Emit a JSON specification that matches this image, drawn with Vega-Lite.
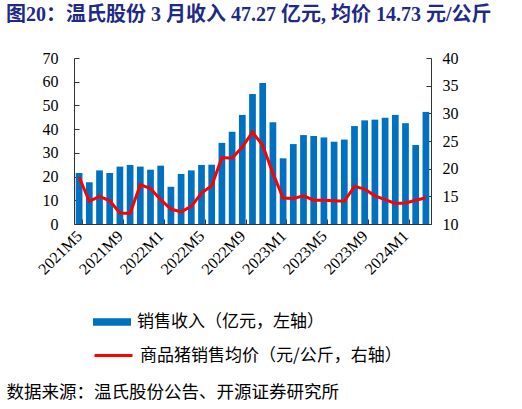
{
  "$schema": "https://vega.github.io/schema/vega-lite/v6.json",
  "autosize": "none",
  "width": 357,
  "height": 166,
  "padding": {"left": 74, "top": 58, "right": 91, "bottom": 185},
  "background": "white",
  "title": {
    "text": "图20：温氏股份 3 月收入 47.27 亿元, 均价 14.73 元/公斤",
    "anchor": "start",
    "frame": "group",
    "dx": -68,
    "offset": 9,
    "baseline": "alphabetic",
    "font": "Liberation Serif, Noto Sans CJK SC",
    "fontSize": 20,
    "fontWeight": "bold",
    "color": "#1F2A86"
  },
  "data": {
    "values": [
      {"month": "2021M5", "revenue": 21.5, "price": 18.5},
      {"month": "2021M6", "revenue": 17.6, "price": 14.1},
      {"month": "2021M7", "revenue": 22.6, "price": 15.0},
      {"month": "2021M8", "revenue": 21.5, "price": 14.2},
      {"month": "2021M9", "revenue": 24.2, "price": 12.0},
      {"month": "2021M10", "revenue": 24.9, "price": 11.9},
      {"month": "2021M11", "revenue": 24.2, "price": 17.1},
      {"month": "2021M12", "revenue": 22.9, "price": 16.4},
      {"month": "2022M1", "revenue": 24.6, "price": 14.4},
      {"month": "2022M2", "revenue": 15.7, "price": 12.7},
      {"month": "2022M3", "revenue": 21.1, "price": 12.2},
      {"month": "2022M4", "revenue": 22.6, "price": 13.2},
      {"month": "2022M5", "revenue": 24.9, "price": 15.6},
      {"month": "2022M6", "revenue": 25.0, "price": 16.9},
      {"month": "2022M7", "revenue": 34.2, "price": 22.0},
      {"month": "2022M8", "revenue": 38.9, "price": 21.9},
      {"month": "2022M9", "revenue": 46.0, "price": 23.9},
      {"month": "2022M10", "revenue": 54.8, "price": 26.6},
      {"month": "2022M11", "revenue": 59.5, "price": 24.2},
      {"month": "2022M12", "revenue": 42.9, "price": 19.2},
      {"month": "2023M1", "revenue": 27.7, "price": 14.7},
      {"month": "2023M2", "revenue": 33.7, "price": 14.6},
      {"month": "2023M3", "revenue": 37.5, "price": 15.1},
      {"month": "2023M4", "revenue": 37.1, "price": 14.3},
      {"month": "2023M5", "revenue": 36.5, "price": 14.3},
      {"month": "2023M6", "revenue": 34.7, "price": 14.2},
      {"month": "2023M7", "revenue": 35.6, "price": 14.1},
      {"month": "2023M8", "revenue": 41.3, "price": 16.8},
      {"month": "2023M9", "revenue": 43.7, "price": 16.3},
      {"month": "2023M10", "revenue": 44.0, "price": 15.1},
      {"month": "2023M11", "revenue": 44.8, "price": 14.4},
      {"month": "2023M12", "revenue": 46.0, "price": 13.7},
      {"month": "2024M1", "revenue": 42.5, "price": 13.8},
      {"month": "2024M2", "revenue": 33.3, "price": 14.3},
      {"month": "2024M3", "revenue": 47.27, "price": 14.73}
    ]
  },
  "encoding": {
    "x": {
      "field": "month",
      "type": "ordinal",
      "sort": null,
      "scale": {"paddingInner": 0.34, "paddingOuter": 0.17},
      "axis": {
        "values": ["2021M5", "2021M9", "2022M1", "2022M5", "2022M9", "2023M1", "2023M5", "2023M9", "2024M1"],
        "labelAngle": -45,
        "labelAlign": "right",
        "labelBaseline": "middle",
        "labelFont": "Liberation Serif",
        "labelFontSize": 16,
        "labelColor": "#000000",
        "labelPadding": 14,
        "tickBand": "extent",
        "tickSize": -5,
        "tickColor": "#333333",
        "domainColor": "#333333",
        "title": "数据来源：温氏股份公告、开源证券研究所",
        "titleX": -68,
        "titleY": 168,
        "titleAlign": "left",
        "titleAnchor": null,
        "titleBaseline": "middle",
        "titleAngle": 0,
        "titleFont": "Noto Sans CJK SC",
        "titleFontSize": 17.5,
        "titleFontWeight": "normal",
        "titleColor": "#000000"
      }
    }
  },
  "layer": [
    {
      "mark": {"type": "bar", "color": "#0070C0"},
      "encoding": {
        "y": {
          "field": "revenue",
          "type": "quantitative",
          "scale": {"domain": [0, 70], "nice": false},
          "axis": {
            "title": null,
            "values": [0, 10, 20, 30, 40, 50, 60, 70],
            "grid": false,
            "tickSize": -5,
            "tickColor": "#333333",
            "domainColor": "#333333",
            "labelFont": "Liberation Serif",
            "labelFontSize": 16,
            "labelColor": "#000000",
            "labelPadding": 21
          }
        },
        "color": {
          "datum": "销售收入（亿元，左轴）",
          "scale": {"range": ["#0070C0"]},
          "legend": {
            "title": null,
            "orient": "none",
            "legendX": 19,
            "legendY": 245,
            "symbolType": "M-1,-0.2H1V0.2H-1Z",
            "symbolSize": 1444,
            "symbolOpacity": 1,
            "symbolStrokeWidth": 0,
            "labelFont": "Noto Sans CJK SC",
            "labelFontSize": 17,
            "labelColor": "#000000",
            "labelOffset": 6,
            "labelLimit": 400
          }
        }
      }
    },
    {
      "mark": {"type": "line", "strokeWidth": 3},
      "encoding": {
        "y": {
          "field": "price",
          "type": "quantitative",
          "scale": {"domain": [10, 40], "nice": false},
          "axis": {
            "orient": "right",
            "title": null,
            "values": [10, 15, 20, 25, 30, 35, 40],
            "grid": false,
            "tickSize": -5,
            "tickColor": "#333333",
            "domainColor": "#333333",
            "labelFont": "Liberation Serif",
            "labelFontSize": 16,
            "labelColor": "#000000",
            "labelPadding": 16
          }
        },
        "stroke": {
          "datum": "商品猪销售均价（元/公斤，右轴）",
          "scale": {"range": ["#FF0000"]},
          "legend": {
            "title": null,
            "orient": "none",
            "legendX": 19,
            "legendY": 277,
            "symbolType": "stroke",
            "symbolSize": 1444,
            "symbolStrokeWidth": 3,
            "labelFont": "Noto Sans CJK SC",
            "labelFontSize": 17,
            "labelColor": "#000000",
            "labelOffset": 6,
            "labelLimit": 400
          }
        }
      }
    }
  ],
  "resolve": {"scale": {"y": "independent"}},
  "config": {
    "view": {"stroke": null}
  }
}
